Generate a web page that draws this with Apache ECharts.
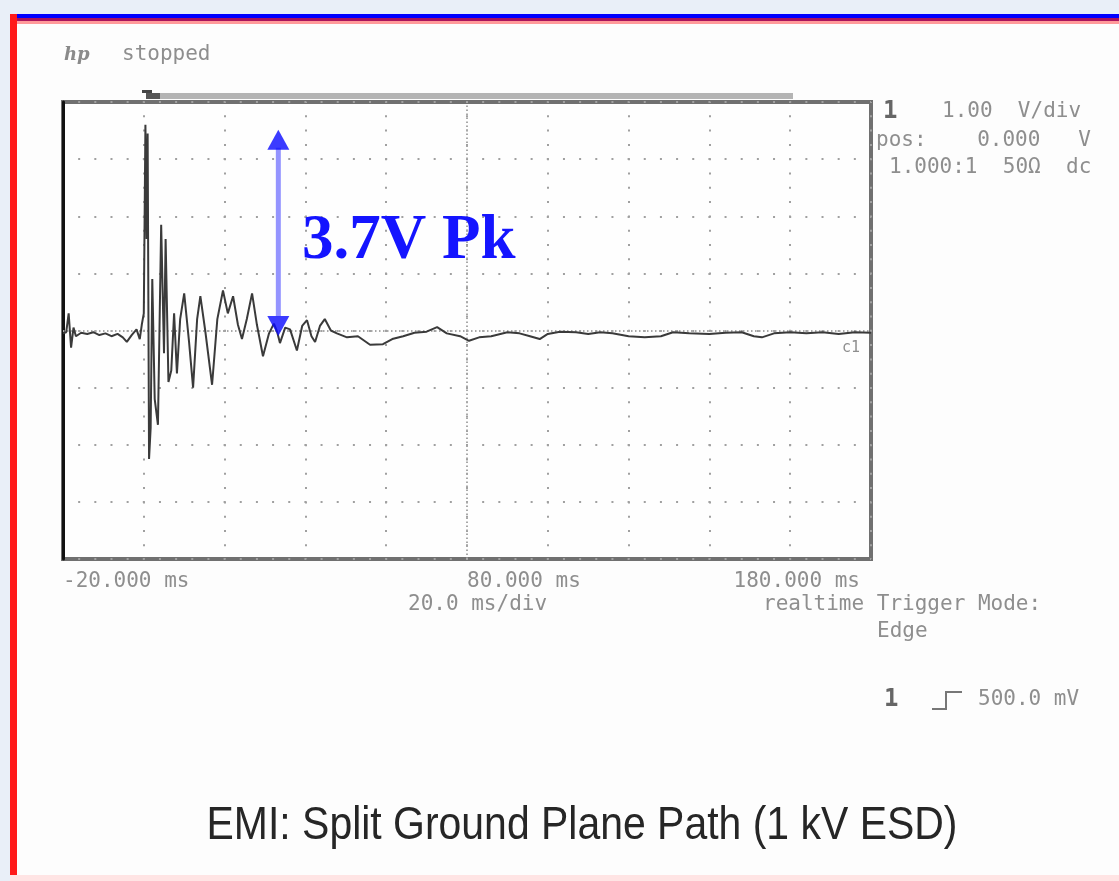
<!DOCTYPE html>
<html>
<head>
<meta charset="utf-8">
<script src="https://cdn.jsdelivr.net/npm/echarts@6/dist/echarts.min.js"></script>
<style>
html,body{margin:0;padding:0;background:#fdfdfd;}
#chart{width:1119px;height:881px;}
</style>
</head>
<body>
<div id="chart"></div>
<script>
// ---- data read from the oscilloscope capture ----
const traceTimeMs = [-20, -19.2, -18.6, -18.0, -17.4, -16.8, -15.5, -14, -12.5, -11, -9.5, -8, -6.5, -5.2, -4.2, -3, -1.8, -1.0, -0.5,
  0.0, 0.4, 0.7, 0.95, 1.3, 1.7, 2.1, 2.7, 3.5, 4.3, 5.0, 5.4, 6.1, 6.8, 7.5, 8.2, 9.0, 10.0, 11.2, 12.2, 13.2, 14.0, 15.2, 16.9,
  18.2, 19.6, 20.8, 22.1, 23.3, 24.3, 25.5, 26.8, 28.0, 29.5, 31.0, 32.2, 33.0, 33.7, 35.0, 36.2, 37.9, 39.2, 40.4, 41.5, 42.4,
  43.6, 44.8, 46.3, 47.8, 50.3, 53.0, 56.0, 59.2, 61.5, 64.2, 67, 70, 72.6, 75, 78.3, 80.5, 83, 86, 90, 93, 95.6, 98, 100, 103,
  107, 110, 113, 116, 120, 124, 128, 131, 135, 140, 144, 148, 151, 153, 156, 160, 164, 168, 172, 176, 180];
const traceVolt = [-0.05, -0.03, 0.3, -0.3, 0.05, -0.1, -0.04, -0.06, -0.03, -0.08, -0.05, -0.1, -0.06, -0.12, -0.2, -0.08, 0.02, -0.15, 0.1,
  0.3, 3.6, 1.6, 3.45, -2.25, -1.7, 0.9, -1.2, -1.65, 1.85, -0.4, 1.6, -0.9, -0.7, 0.3, -0.75, 0.2, 0.65, -0.2, -1.0, 0.2, 0.6, 0.0, -0.95,
  0.2, 0.7, 0.3, 0.6, 0.1, -0.15, 0.2, 0.65, 0.1, -0.45, -0.05, 0.12, -0.02, -0.22, 0.05, 0.02, -0.35, 0.08, 0.18, -0.1, -0.2,
  0.08, 0.2, 0.0, -0.05, -0.12, -0.1, -0.25, -0.24, -0.15, -0.1, -0.04, -0.02, 0.06, -0.05, -0.1, -0.18, -0.12, -0.1, -0.03, -0.05, -0.1, -0.15, -0.06, -0.02,
  -0.03, -0.06, -0.03, -0.05, -0.1, -0.12, -0.1, -0.03, -0.05, -0.06, -0.04, -0.03, -0.1, -0.12, -0.05, -0.03, -0.05, -0.03, -0.06, -0.03, -0.04];

const xTickValues = [-20, 80, 180];
const xTickLabels = ['-20.000 ms', '80.000 ms', '180.000 ms'];
const centerTimeMs = [80];
const centerVolt = [0];
const peakArrowShaft = [[33.3, 3.2], [33.3, 0.25]];
const peakArrowHeads = [[33.3, 3.34, 0], [33.3, 0.08, 180]];
const peakLabel = '3.7V Pk';
const titleText = 'EMI: Split Ground Plane Path (1 kV ESD)';
const scopeTexts = {
  status: 'stopped',
  ch: '1',
  scale: '1.00  V/div',
  pos: 'pos:    0.000   V',
  probe: '1.000:1  50Ω  dc',
  timebase: '20.0 ms/div',
  mode: 'realtime Trigger Mode:',
  edge: 'Edge',
  trigLevel: '500.0 mV',
  marker: 'c1'
};

const traceData = traceTimeMs.map((t, i) => [t, traceVolt[i]]);

const chart = echarts.init(document.getElementById('chart'), null, {renderer: 'canvas'});

const mono = 'DejaVu Sans Mono';
const smallColor = '#8e8e8e';
function smallText(x, y, text, extra) {
  return Object.assign({
    type: 'text', x: x, y: y, silent: true,
    style: Object.assign({text: text, font: '21px "' + mono + '"', fill: smallColor, textVerticalAlign: 'middle'}, extra || {})
  });
}

const option = {
  backgroundColor: '#fdfdfd',
  animation: false,
  grid: {left: 63, top: 102, right: 248, bottom: 322, show: true, borderColor: '#707070', borderWidth: 4, backgroundColor: '#fefefe'},
  xAxis: {
    type: 'value', min: -20, max: 180, interval: 20,
    axisLine: {show: false, onZero: false},
    axisTick: {show: false},
    splitLine: {show: true, lineStyle: {color: '#a0a0a0', width: 2, type: [2, 12.3], dashOffset: 1}},
    axisLabel: {
      show: true, margin: 12, align: 'left', alignMaxLabel: 'right', padding: [0, 11, 0, 0],
      fontFamily: mono, fontSize: 21, color: smallColor,
      formatter: function (v) { const i = xTickValues.indexOf(v); return i >= 0 ? xTickLabels[i] : ''; }
    }
  },
  yAxis: {
    type: 'value', min: -4, max: 4, interval: 1,
    axisLine: {show: true, onZero: false, lineStyle: {color: '#111', width: 3}},
    axisTick: {show: false},
    axisLabel: {show: false},
    splitLine: {show: true, lineStyle: {color: '#a0a0a0', width: 2, type: [2, 14.16], dashOffset: 1}}
  },
  series: [
    {
      type: 'line', name: 'center', data: [], silent: true,
      markLine: {
        silent: true, symbol: 'none', label: {show: false}, animation: false,
        lineStyle: {color: '#a8a8a8', width: 2, type: [1.5, 2.5]},
        data: centerTimeMs.map(v => ({xAxis: v})).concat(centerVolt.map(v => ({yAxis: v})))
      }
    },
    {
      type: 'line', name: 'trace', data: traceData, showSymbol: false, symbol: 'none',
      lineStyle: {color: '#3a3a3a', width: 2}, z: 5
    },
    {
      type: 'line', name: 'arrowShaft', data: peakArrowShaft, showSymbol: false, symbol: 'none',
      lineStyle: {color: '#9494ff', width: 5}, z: 6
    },
    {
      type: 'scatter', name: 'arrowHeads', data: peakArrowHeads.map(p => ({value: [p[0], p[1]], symbolRotate: p[2]})),
      symbol: 'triangle', symbolSize: [22, 20], itemStyle: {color: '#0a0aff'}, z: 7
    }
  ],
  graphic: [
    // page frame
    {type: 'rect', shape: {x: 0, y: 0, width: 1119, height: 14}, style: {fill: '#e9eff8'}, silent: true},
    {type: 'rect', shape: {x: 0, y: 0, width: 10, height: 881}, style: {fill: '#e9eff8'}, silent: true},
    {type: 'rect', shape: {x: 10, y: 14, width: 1109, height: 4}, style: {fill: '#0000ff'}, silent: true},
    {type: 'rect', shape: {x: 10, y: 18, width: 1109, height: 3}, style: {fill: '#a8135c'}, silent: true},
    {type: 'rect', shape: {x: 17, y: 21, width: 1102, height: 3}, style: {fill: '#ff9a9a'}, silent: true},
    {type: 'rect', shape: {x: 10, y: 14, width: 7, height: 863}, style: {fill: '#ff1a1a'}, silent: true},
    {type: 'rect', shape: {x: 10, y: 875, width: 1109, height: 6}, style: {fill: '#ffe4e4'}, silent: true},
    // memory bar and trigger marker above the plot
    {type: 'rect', shape: {x: 150, y: 93, width: 643, height: 6}, style: {fill: '#b4b4b4'}, silent: true},
    {type: 'rect', shape: {x: 142, y: 90, width: 10, height: 3}, style: {fill: '#444'}, silent: true},
    {type: 'rect', shape: {x: 146, y: 93, width: 14, height: 6}, style: {fill: '#555'}, silent: true},
    // header
    smallText(64, 55, 'hp', {font: 'italic bold 18px "DejaVu Serif"', fill: '#8a8a8a'}),
    smallText(122, 55, scopeTexts.status),
    // right panel
    smallText(883, 112, scopeTexts.ch, {font: 'bold 24px "' + mono + '"', fill: '#666'}),
    smallText(942, 112, scopeTexts.scale),
    smallText(876, 141, scopeTexts.pos),
    smallText(889, 168, scopeTexts.probe),
    smallText(842, 348, scopeTexts.marker, {font: '15px "' + mono + '"'}),
    // bottom texts
    smallText(408, 605, scopeTexts.timebase),
    smallText(763, 605, scopeTexts.mode),
    smallText(877, 632, scopeTexts.edge),
    smallText(884, 700, scopeTexts.ch, {font: 'bold 24px "' + mono + '"', fill: '#666'}),
    {type: 'polyline', silent: true, shape: {points: [[932, 709], [946, 709], [946, 692], [962, 692]]}, style: {stroke: '#777', lineWidth: 2, fill: null}},
    smallText(978, 700, scopeTexts.trigLevel),
    // annotation
    {type: 'text', x: 302, y: 242, silent: true, z: 10,
      style: {text: peakLabel, font: 'bold 63px "Liberation Serif"', fill: '#1414ff', textVerticalAlign: 'middle'}},
    // caption
    {type: 'text', x: 582, y: 826, scaleX: 0.89, silent: true,
      style: {text: titleText, font: '46px "Liberation Sans"', fill: '#262626', textAlign: 'center', textVerticalAlign: 'middle'}}
  ]
};
chart.setOption(option);
</script>
</body>
</html>
